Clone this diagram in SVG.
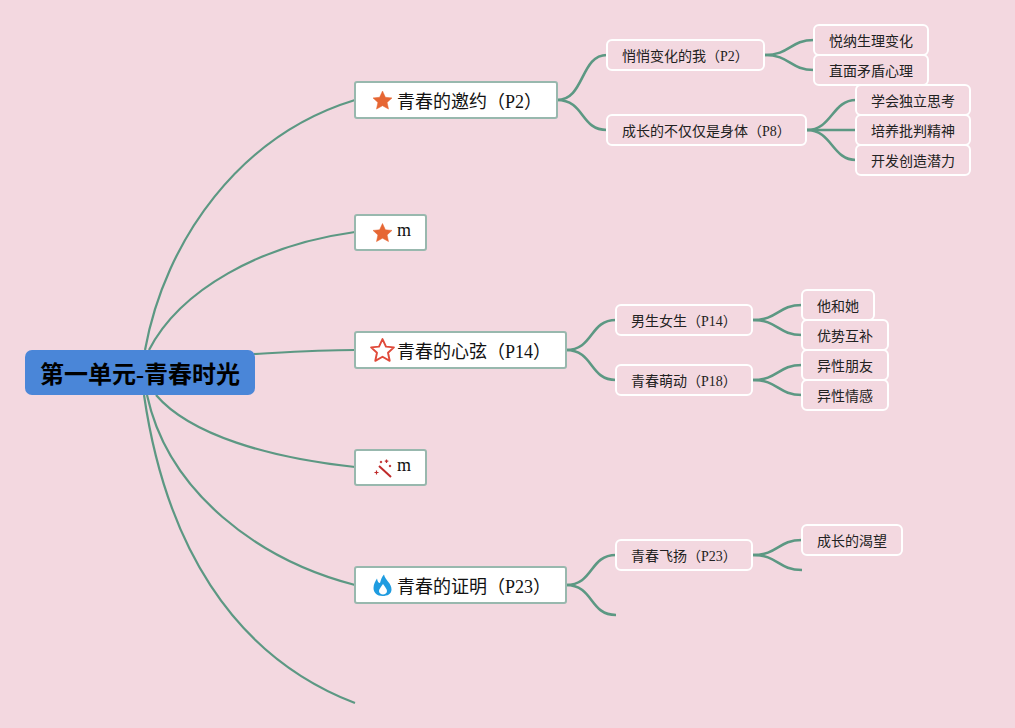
<svg xmlns="http://www.w3.org/2000/svg" width="1015" height="728" viewBox="0 0 1015 728">
<style>
text{font-family:"Liberation Serif","Noto Sans CJK SC",serif;fill:#111}
.c path{fill:none;stroke:#5c9883;stroke-width:2.2;stroke-linecap:butt}
.c .t{stroke-width:2.6}
.m rect{fill:#fff;stroke:#98b8ae;stroke-width:2}
.m text{font-size:18px}
.s rect{fill:#f3d8e0;stroke:#fff;stroke-width:2}
.s text{font-size:14px;fill:#222}
</style>
<defs>
<polygon id="star" points="0,-9.5 2.9,-3.2 9.5,-2.6 4.6,1.9 6,8.6 0,5.2 -6,8.6 -4.6,1.9 -9.5,-2.6 -2.9,-3.2" stroke-linejoin="round"/>
</defs>
<rect width="1015" height="728" fill="#f3d8e0"/>
<g class="c" id="connectors">
<path d="M145,350C165,240 240,135 355,100"/>
<path d="M149,350C180,290 260,245 355,232"/>
<path d="M254,354C290,352 320,350 355,350"/>
<path d="M156,395C190,435 270,458 355,467"/>
<path d="M147,395C168,492 258,560 355,585"/>
<path d="M144,395C165,540 230,655 355,703"/>
<path class="t" d="M557,100C585,100 580,55 607,55"/>
<path class="t" d="M557,100C585,100 580,130 607,130"/>
<path class="t" d="M566,350C594,350 589,320 616,320"/>
<path class="t" d="M566,350C594,350 589,380 616,380"/>
<path class="t" d="M566,585C594,585 589,555 616,555"/>
<path class="t" d="M566,585C594,585 589,615 616,615"/>
<path class="t" d="M765,55C790,55 790,40 814,40"/>
<path class="t" d="M765,55C790,55 790,70 814,70"/>
<path class="t" d="M807,130C832,130 832,100 856,100"/>
<path class="t" d="M807,130H856"/>
<path class="t" d="M807,130C832,130 832,160 856,160"/>
<path class="t" d="M753,320C778,320 778,305 802,305"/>
<path class="t" d="M753,320C778,320 778,335 802,335"/>
<path class="t" d="M753,380C778,380 778,365 802,365"/>
<path class="t" d="M753,380C778,380 778,395 802,395"/>
<path class="t" d="M753,555C778,555 778,540 802,540"/>
<path class="t" d="M753,555C778,555 778,570 802,570"/>
</g>
<g id="root"><rect x="25" y="350" width="230" height="45" rx="7" fill="#4a86d8"/><text x="140" y="383" font-size="24" font-weight="700" text-anchor="middle" style="fill:#000">第一单元-青春时光</text></g>
<g id="n1" class="m"><rect x="355" y="82" width="202" height="36" rx="2"/><use href="#star" x="382.500" y="100.500" fill="#e66633" stroke="#e66633" stroke-width=".5"/><text x="397" y="108">青春的邀约（P2）</text></g>
<g id="n2" class="m"><rect x="355" y="215" width="71" height="35" rx="2"/><use href="#star" x="382.500" y="233" fill="#e66633" stroke="#e66633" stroke-width=".5"/><text x="397" y="236">m</text></g>
<g id="n3" class="m"><rect x="355" y="332" width="211" height="36" rx="2"/><use href="#star" transform="translate(382.500 350.500) scale(1.2)" fill="#fff" stroke="#e04a3a" stroke-width="1.600"/><text x="397" y="358">青春的心弦（P14）</text></g>
<g id="n4" class="m"><rect x="355" y="450" width="71" height="35" rx="2"/><g stroke="#bf2a2a" fill="#bf2a2a"><path d="M379,466L391,477" stroke-width="2"/><path d="M374.500,472.500h4M376.500,470.500v4M386.500,459.500v3.500M384.800,461.200h3.500" stroke-width="1.200"/><circle cx="390" cy="466" r=".8"/><circle cx="381" cy="462" r=".8"/></g><text x="397" y="471">m</text></g>
<g id="n5" class="m"><rect x="355" y="567" width="211" height="36" rx="2"/><path d="M384,574.500C385,580 391.500,583 391.500,589.500C391.500,594 387.500,596 382.500,596C377,596 373.500,592.500 373.500,588C373.500,584 375.500,581 377,578.500C377.500,581.500 378.500,583 380,583C381,580 381.500,577 384,574.500ZM383,584C381,587 379,589 379,591C379,593 381,594.500 383,594.500C385,594.500 387,593 387,591C387,589 385,587 383,584Z" fill="#1f9ce0" fill-rule="evenodd"/><text x="397" y="593">青春的证明（P23）</text></g>
<g id="s1" class="s"><rect x="607" y="40" width="157" height="30" rx="5"/><text x="622" y="61">悄悄变化的我（P2）</text></g>
<g id="s2" class="s"><rect x="607" y="115" width="199" height="30" rx="5"/><text x="622" y="136">成长的不仅仅是身体（P8）</text></g>
<g id="s3" class="s"><rect x="616" y="305" width="136" height="30" rx="5"/><text x="631" y="326">男生女生（P14）</text></g>
<g id="s4" class="s"><rect x="616" y="365" width="136" height="30" rx="5"/><text x="631" y="386">青春萌动（P18）</text></g>
<g id="s5" class="s"><rect x="616" y="540" width="136" height="30" rx="5"/><text x="631" y="561">青春飞扬（P23）</text></g>
<g id="l1" class="s"><rect x="814" y="25" width="114" height="30" rx="5"/><text x="829" y="46">悦纳生理变化</text></g>
<g id="l2" class="s"><rect x="814" y="55" width="114" height="30" rx="5"/><text x="829" y="76">直面矛盾心理</text></g>
<g id="l3" class="s"><rect x="856" y="85" width="114" height="30" rx="5"/><text x="871" y="106">学会独立思考</text></g>
<g id="l4" class="s"><rect x="856" y="115" width="114" height="30" rx="5"/><text x="871" y="136">培养批判精神</text></g>
<g id="l5" class="s"><rect x="856" y="145" width="114" height="30" rx="5"/><text x="871" y="166">开发创造潜力</text></g>
<g id="l6" class="s"><rect x="802" y="290" width="72" height="30" rx="5"/><text x="817" y="311">他和她</text></g>
<g id="l7" class="s"><rect x="802" y="320" width="86" height="30" rx="5"/><text x="817" y="341">优势互补</text></g>
<g id="l8" class="s"><rect x="802" y="350" width="86" height="30" rx="5"/><text x="817" y="371">异性朋友</text></g>
<g id="l9" class="s"><rect x="802" y="380" width="86" height="30" rx="5"/><text x="817" y="401">异性情感</text></g>
<g id="l10" class="s"><rect x="802" y="525" width="100" height="30" rx="5"/><text x="817" y="546">成长的渴望</text></g>
</svg>
